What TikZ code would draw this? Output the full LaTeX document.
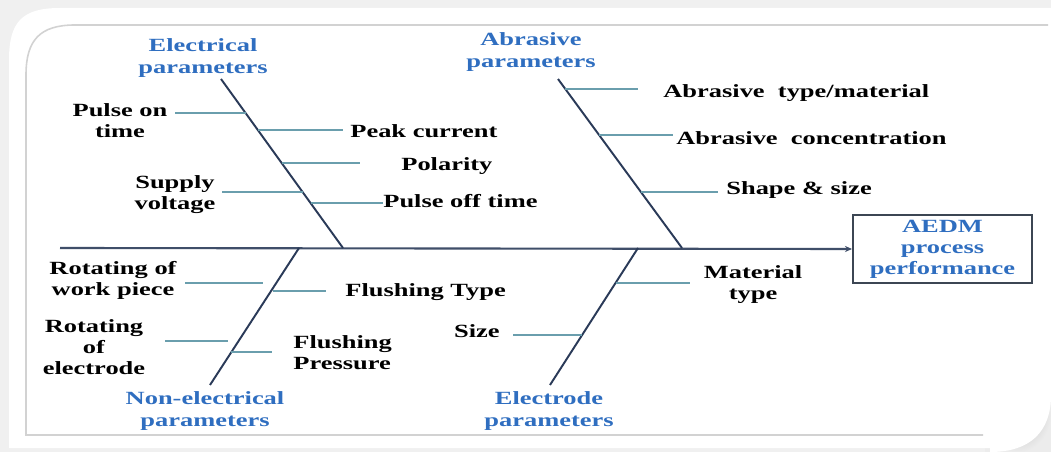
\documentclass[tikz,border=0pt]{standalone}
\usepackage{fontspec}
\setmainfont{Liberation Serif}[FakeStretch=1.42]
\usetikzlibrary{arrows.meta}
\definecolor{catblue}{HTML}{2F6EC0}
\definecolor{bonenavy}{HTML}{2A3A58}
\definecolor{twigteal}{HTML}{6A9EAD}
\definecolor{boxedge}{HTML}{3C4653}

\begin{document}
\begin{tikzpicture}[x=0.02cm, y=-0.02cm,
  cause/.style={font=\fontsize{10.6}{12}\selectfont\bfseries, inner sep=0pt, align=center},
  category/.style={cause, text=catblue},
  bone/.style={draw=bonenavy, line width=1.1pt},
  twig/.style={draw=twigteal, line width=1.1pt},
  spine/.style={draw=bonenavy!90, line width=1.2pt, -{Stealth[length=4pt,width=3.5pt]}}]
  \useasboundingbox (0,0) rectangle (1051,452);
  \fill[gray!12] (0,0) rectangle (1051,452);
  \shade[inner color=gray!55, outer color=gray!15] (985,375) rectangle (1051,452);
  \fill[white] (9,448) -- (9,60) .. controls (9,22) and (22,8) .. (60,8) -- (1051,8)
    -- (1051,395) .. controls (1051,432) and (1030,452) .. (990,452) -- (990,448) -- cycle;
  \draw[gray!35, line width=0.9pt] (983,435) -- (26,435) -- (26,75)
    .. controls (26,40) and (40,25) .. (75,25) -- (1048,25);

  \node[category, draw=boxedge, line width=1.2pt, minimum width=3.58cm, minimum height=1.36cm] (head) at (942.5,249) {AEDM\\process\\performance};
  \coordinate (tail) at (60,248);
  \draw[spine] (tail) -- (head.west);

  \coordinate (eT) at (221,79);  \coordinate (eB) at (343,248);
  \coordinate (aT) at (558,79);  \coordinate (aB) at (682,248);
  \coordinate (nT) at (299,248); \coordinate (nB) at (210,385);
  \coordinate (dT) at (638,248); \coordinate (dB) at (550,385);
  \draw[bone] (eT) -- (eB);
  \draw[bone] (aT) -- (aB);
  \draw[bone] (nT) -- (nB);
  \draw[bone] (dT) -- (dB);

  \node[category] (elec) at (203,58) {Electrical\\parameters};
  \node[category] (abr) at (531,52) {Abrasive\\parameters};
  \node[category] (nonel) at (205,411) {Non-electrical\\parameters};
  \node[category] (electrode) at (549,411) {Electrode\\parameters};

  \coordinate (e1) at (245.5,113); \coordinate (e1o) at (175,113);
  \coordinate (e2) at (257.8,130); \coordinate (e2o) at (343,130);
  \coordinate (e3) at (281.6,163); \coordinate (e3o) at (360,163);
  \coordinate (e4) at (302.6,192); \coordinate (e4o) at (222,192);
  \coordinate (e5) at (310.5,203); \coordinate (e5o) at (383,203);
  \draw[twig] (e1o) -- (e1);
  \draw[twig] (e2) -- (e2o);
  \draw[twig] (e3) -- (e3o);
  \draw[twig] (e4o) -- (e4);
  \draw[twig] (e5) -- (e5o);
  \node[cause] (pulseon) at (120,120.5) {Pulse on\\time};
  \node[cause, anchor=west] (peak) at (350,131) {Peak current};
  \node[cause, anchor=west] (polarity) at (401,166) {Polarity};
  \node[cause] (supply) at (175,195) {Supply\\voltage};
  \node[cause, anchor=west] (pulseoff) at (383,201) {Pulse off time};

  \coordinate (a1) at (565.3,89);  \coordinate (a1o) at (638,89);
  \coordinate (a2) at (599.1,135); \coordinate (a2o) at (673,135);
  \coordinate (a3) at (641,192);   \coordinate (a3o) at (718,192);
  \draw[twig] (a1) -- (a1o);
  \draw[twig] (a2) -- (a2o);
  \draw[twig] (a3) -- (a3o);
  \node[cause, anchor=west] (abrtype) at (663,93) {Abrasive\ \ type/material};
  \node[cause, anchor=west] (abrconc) at (676,138) {Abrasive\ \ concentration};
  \node[cause, anchor=west] (shape) at (726,190) {Shape \& size};

  \coordinate (n1o) at (185,283);  \coordinate (n1) at (263,283);
  \coordinate (n2) at (273,291);   \coordinate (n2o) at (326,291);
  \coordinate (n3o) at (165,341);  \coordinate (n3) at (228,341);
  \coordinate (n4) at (231.4,352); \coordinate (n4o) at (272,352);
  \draw[twig] (n1o) -- (n1);
  \draw[twig] (n2) -- (n2o);
  \draw[twig] (n3o) -- (n3);
  \draw[twig] (n4) -- (n4o);
  \node[cause] (rotwork) at (113,280) {Rotating of\\work piece};
  \node[cause, anchor=west] (flushtype) at (345,292) {Flushing Type};
  \node[cause] (rotelec) at (94,347) {Rotating\\of\\electrode};
  \node[cause, anchor=west, align=left] (flushpress) at (293,353) {Flushing\\Pressure};

  \coordinate (d1) at (615.5,283); \coordinate (d1o) at (690,283);
  \coordinate (d2o) at (513,335);  \coordinate (d2) at (582.1,335);
  \draw[twig] (d1) -- (d1o);
  \draw[twig] (d2o) -- (d2);
  \node[cause] (material) at (753,285) {Material\\type};
  \node[cause, anchor=east] (size) at (500,331) {Size};
\end{tikzpicture}
\end{document}
